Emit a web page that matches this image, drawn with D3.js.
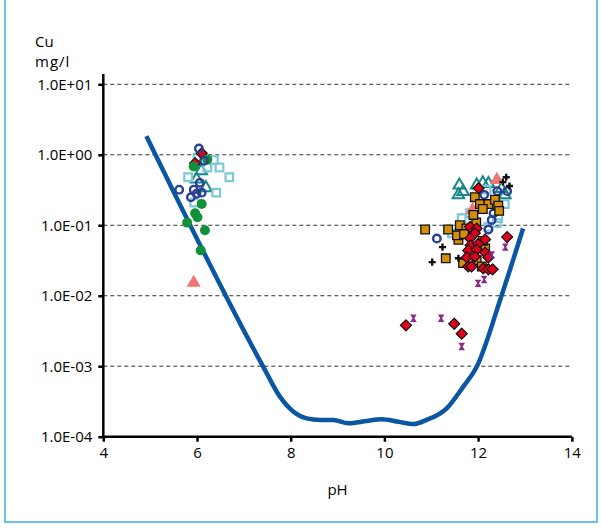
<!DOCTYPE html>
<html>
<head>
<meta charset="utf-8">
<script src="https://cdn.jsdelivr.net/npm/d3@7"></script>
<style>
  body { margin: 0; background: #fff; }
  svg text { font-family: "Open Sans", "Noto Sans", sans-serif; fill: #000; }
</style>
</head>
<body>
<svg id="chart" width="601" height="528"></svg>
<script>
// tick values
var xTicks = [4, 6, 8, 10, 12, 14];
var yTicks = [1e-4, 1e-3, 1e-2, 1e-1, 1, 10];
var yTickLabels = ["1.0E-04", "1.0E-03", "1.0E-02", "1.0E-01", "1.0E+00", "1.0E+01"];

// solubility curve  [pH, Cu mg/l]
var curve = [[4.92,1.84],[7.415,0.00098],[7.77,0.00037],[8.06,0.000226],[8.34,0.000182],
  [8.63,0.000173],[8.91,0.000173],[9.23,0.000155],[9.62,0.000167],[9.94,0.000177],
  [10.30,0.000163],[10.62,0.000151],[10.90,0.000173],[11.33,0.000253],[11.68,0.00051],
  [11.97,0.00098],[12.47,0.0087],[12.96,0.090]];

// measured samples, one array per series  [pH, Cu mg/l]
var tealTriangles = [[6.09,0.59],[5.99,0.45],[6.19,0.34],
  [11.60,0.37],[11.68,0.30],[11.58,0.27],[11.97,0.37],[12.10,0.40],[12.22,0.39],[12.57,0.27],[12.50,0.33]];
var lightSquares = [[6.01,0.91],[6.36,0.84],[6.48,0.66],[6.22,0.66],[5.81,0.48],[6.69,0.48],[6.41,0.29],[5.94,0.21],
  [11.65,0.126],[11.44,0.077],[12.43,0.126],[12.40,0.107],[11.83,0.148],[12.18,0.32],[12.57,0.2],[12.22,0.095]];
var salmonTriangles = [[5.93,0.0153],[12.40,0.44],[11.88,0.164]];
var orangeSquares = [[10.87,0.087],[11.36,0.087],[11.31,0.034],[11.93,0.25],[12.04,0.20],[12.22,0.20],
  [12.10,0.17],[12.36,0.23],[12.43,0.19],[12.45,0.16],[11.96,0.11],[11.61,0.10],[11.58,0.062],
  [11.55,0.072],[11.68,0.029],[11.97,0.032],[12.15,0.047],[12.08,0.026],[11.75,0.09],[11.9,0.14],
  [11.7,0.075],[12.1,0.06]];
var navyCircles = [[6.04,1.23],[5.62,0.32],[6.15,0.82],[6.06,0.40],[5.93,0.32],[6.10,0.29],[5.99,0.28],[5.87,0.25],
  [12.13,0.27],[12.41,0.305],[12.62,0.305],[12.29,0.119],[12.22,0.087],[11.12,0.065],[12.33,0.148]];
var redDiamonds = [[6.10,1.05],[5.96,0.76],
  [11.83,0.095],[11.97,0.090],[11.93,0.077],[11.83,0.065],[12.15,0.063],[11.84,0.052],[12.00,0.054],
  [11.79,0.044],[11.97,0.045],[12.15,0.041],[11.76,0.035],[11.93,0.036],[12.22,0.035],[11.79,0.026],
  [11.86,0.026],[12.11,0.0245],[12.22,0.0237],[12.31,0.0237],[12.62,0.068],[12.01,0.335],
  [10.46,0.0038],[11.49,0.0040],[11.65,0.0029]];
var greenCircles = [[5.93,0.68],[6.22,0.86],[6.10,0.20],[5.96,0.148],[6.01,0.13],[5.79,0.109],[6.17,0.085],[6.08,0.044],
  [11.65,0.072]];
var blackCrosses = [[12.60,0.48],[12.53,0.41],[12.67,0.36],[11.24,0.049],[11.02,0.030],[11.58,0.034]];
var purpleSpools = [[12.29,0.038],[12.58,0.049],[12.13,0.017],[12.00,0.015],[10.62,0.0048],[11.21,0.0048],[11.65,0.0019]];

var svg = d3.select("#chart");

var x = d3.scaleLinear().domain([4, 14]).range([103.3, 571.8]);
var y = d3.scaleLog().domain([1e-4, 10]).range([436.7, 84.3]);

// frame
svg.append("rect")
  .attr("x", 5).attr("y", -3).attr("width", 592).attr("height", 525)
  .attr("fill", "none").attr("stroke", "#3cb0e4").attr("stroke-width", 1.5);

// gridlines
svg.append("g").selectAll("line")
  .data(yTicks.slice(1)).enter().append("line")
  .attr("x1", x(4)).attr("x2", x(14))
  .attr("y1", function(d){ return y(d); }).attr("y2", function(d){ return y(d); })
  .attr("stroke", "#333").attr("stroke-width", 1).attr("stroke-dasharray", "4,3");

// axes
var yAxis = svg.append("g")
  .attr("transform", "translate(" + x(4) + ",0)")
  .call(d3.axisLeft(y).tickValues(yTicks).tickSize(5).tickPadding(6)
    .tickFormat(function(d, i){ return yTickLabels[i]; }));
yAxis.select(".domain").attr("d", "M0,74V" + y(1e-4)).attr("stroke-width", 2.5);
yAxis.selectAll(".tick line").attr("stroke-width", 2.5);
yAxis.selectAll("text").style("font-size", "15px");

var xAxis = svg.append("g")
  .attr("transform", "translate(0," + y(1e-4) + ")")
  .call(d3.axisBottom(x).tickValues(xTicks).tickSize(5).tickPadding(6));
xAxis.select(".domain").attr("d", "M" + x(4) + ",0H" + x(14)).attr("stroke-width", 2.5);
xAxis.selectAll(".tick line").attr("stroke-width", 2.5);
xAxis.selectAll("text").style("font-size", "15px");

svg.append("text").attr("x", 35).attr("y", 47).style("font-size", "15px").text("Cu");
svg.append("text").attr("x", 35).attr("y", 67).style("font-size", "15px")
  .style("letter-spacing", "1px").text("mg/l");
svg.append("text").attr("x", x(9)).attr("y", 495).attr("text-anchor", "middle")
  .style("font-size", "15px").text("pH");

// curve
var line = d3.line()
  .x(function(d){ return x(d[0]); })
  .y(function(d){ return y(d[1]); })
  .curve(d3.curveMonotoneX);
svg.append("path").datum(curve)
  .attr("d", line).attr("fill", "none")
  .attr("stroke", "#0a56a2").attr("stroke-width", 4.5);

// markers
var spool = "M-3.3,-3.7L3.3,-3.7L0.9,0L3.3,3.7L-3.3,3.7L-0.9,0Z";
function drawSeries(data, symbolPath, fill, stroke, sw) {
  svg.append("g").selectAll("path")
    .data(data).enter().append("path")
    .attr("transform", function(d){ return "translate(" + x(d[0]) + "," + y(d[1]) + ")"; })
    .attr("d", symbolPath)
    .attr("fill", fill).attr("stroke", stroke).attr("stroke-width", sw);
}

drawSeries(tealTriangles, d3.symbol(d3.symbolTriangle, 58)(), "none", "#17878a", 2);
drawSeries(lightSquares, "M-3.8,-3.8H3.8V3.8H-3.8Z", "none", "#7ec8d6", 2.2);
drawSeries(salmonTriangles, d3.symbol(d3.symbolTriangle, 85)(), "#ef7474", "none", 0);
drawSeries(redDiamonds.slice(0, 2), "M0,-5.5L5.5,0L0,5.5L-5.5,0Z", "#e0001b", "#111", 1.2);
drawSeries(greenCircles, d3.symbol(d3.symbolCircle, 78)(), "#11923a", "none", 0);
drawSeries(navyCircles, d3.symbol(d3.symbolCircle, 44)(), "none", "#2c3f94", 2.4);
drawSeries(orangeSquares, "M-4.3,-4.3H4.3V4.3H-4.3Z", "#d38e0b", "#111", 1.3);
drawSeries(redDiamonds.slice(2), "M0,-5.5L5.5,0L0,5.5L-5.5,0Z", "#e0001b", "#111", 1.2);
drawSeries(blackCrosses, d3.symbol(d3.symbolCross, 28)(), "#111", "none", 0);
drawSeries(purpleSpools, spool, "#8a2a8c", "none", 0);
</script>
</body>
</html>
